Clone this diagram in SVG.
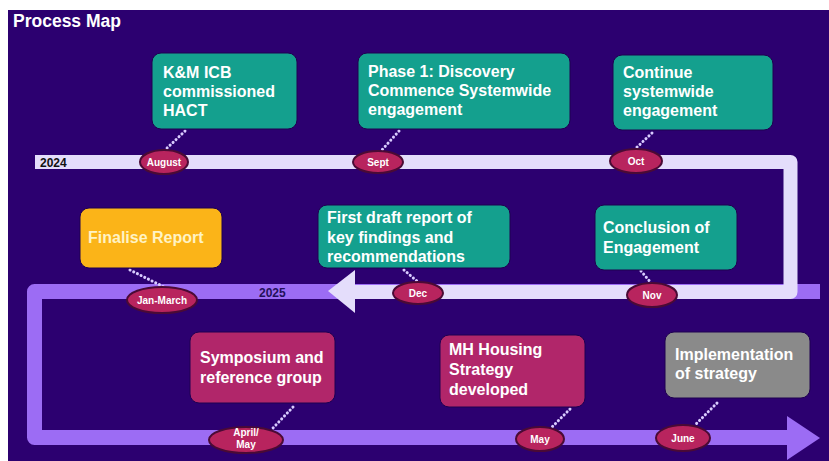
<svg xmlns="http://www.w3.org/2000/svg" width="829" height="461" viewBox="0 0 829 461">
<defs>
<style>
.bg{fill:#2C0070}
.box{stroke:#1f0050;stroke-width:1}
.teal{fill:#14A08E}
.crim{fill:#B1266A}
.yel{fill:#FBB418}
.gray{fill:#8A8A8A}
.t{font-family:"Liberation Sans",Arial,sans-serif;font-weight:bold;font-size:16px;fill:#FFFFFF}
.ty{fill:#FFF3C4}
.ell{fill:#B8245E;stroke:#4A0A35;stroke-width:2}
.et{font-family:"Liberation Sans",Arial,sans-serif;font-weight:bold;font-size:10px;fill:#FFFFFF;text-anchor:middle}
.dot{stroke:#D9CCFF;stroke-width:3;stroke-dasharray:0.1 4;stroke-linecap:round;fill:none}
.light{stroke:#E4DDFB;fill:none;stroke-width:14;stroke-linejoin:round}
.mid{stroke:#9C6CF4;fill:none;stroke-width:15;stroke-linejoin:round}
</style>
</defs>
<rect x="0" y="0" width="829" height="461" fill="#FFFFFF"/>
<rect class="bg" x="8" y="10" width="821" height="451"/>
<text x="13" y="27" style="font-family:'Liberation Sans',Arial,sans-serif;font-weight:bold;font-size:17.5px;fill:#FFFFFF">Process Map</text>

<g id="connectors">
<path class="mid" d="M820,291.5 H34.5 V437.5 H792"/>
<polygon points="787,416 820,438 787,460" fill="#9C6CF4"/>
<path class="light" d="M35,162 H790.5 V292 H352"/>
<polygon points="355,270 328,291 355,313" fill="#E4DDFB"/>
<path class="dot" d="M185,131 L165,150"/>
<path class="dot" d="M399,131 L381,151"/>
<path class="dot" d="M652,133 L635,149"/>
<path class="dot" d="M404,270 L418,282"/>
<path class="dot" d="M130,270 L166,288"/>
<path class="dot" d="M641,271 L652,284"/>
<path class="dot" d="M293,407 L273,428"/>
<path class="dot" d="M570,409 L551,428"/>
<path class="dot" d="M717,403 L695,425"/>
</g>
<text x="40" y="167" style="font-family:'Liberation Sans',Arial,sans-serif;font-weight:bold;font-size:12px;fill:#111111">2024</text>
<text x="259" y="297" style="font-family:'Liberation Sans',Arial,sans-serif;font-weight:bold;font-size:12px;fill:#23105A">2025</text>

<g id="n-kmicb">
<rect class="box teal" x="152" y="53" width="145" height="76" rx="9"/>
<text class="t" x="163" y="78">K&amp;M ICB</text>
<text class="t" x="163" y="97">commissioned</text>
<text class="t" x="163" y="116">HACT</text>
</g>
<g id="n-phase1">
<rect class="box teal" x="358" y="53" width="212" height="76" rx="9"/>
<text class="t" x="368" y="77">Phase 1: Discovery</text>
<text class="t" x="368" y="96">Commence Systemwide</text>
<text class="t" x="368" y="115">engagement</text>
</g>
<g id="n-continue">
<rect class="box teal" x="613" y="55" width="160" height="75" rx="9"/>
<text class="t" x="623" y="78">Continue</text>
<text class="t" x="623" y="97">systemwide</text>
<text class="t" x="623" y="116">engagement</text>
</g>
<g id="n-finalise">
<rect class="box yel" x="80" y="208" width="142" height="60" rx="9"/>
<text class="t ty" x="88" y="243">Finalise Report</text>
</g>
<g id="n-firstdraft">
<rect class="box teal" x="318" y="205" width="192" height="63" rx="9"/>
<text class="t" x="327" y="223">First draft report of</text>
<text class="t" x="327" y="243">key findings and</text>
<text class="t" x="327" y="262">recommendations</text>
</g>
<g id="n-conclusion">
<rect class="box teal" x="595" y="205" width="142" height="65" rx="9"/>
<text class="t" x="603" y="233">Conclusion of</text>
<text class="t" x="603" y="253">Engagement</text>
</g>
<g id="n-symposium">
<rect class="box crim" x="190" y="332" width="145" height="71" rx="9"/>
<text class="t" x="200" y="363">Symposium and</text>
<text class="t" x="200" y="383">reference group</text>
</g>
<g id="n-mhhousing">
<rect class="box crim" x="440" y="335" width="145" height="72" rx="9"/>
<text class="t" x="449" y="355">MH Housing</text>
<text class="t" x="449" y="375">Strategy</text>
<text class="t" x="449" y="395">developed</text>
</g>
<g id="n-implementation">
<rect class="box gray" x="665" y="332" width="145" height="66" rx="9"/>
<text class="t" x="675" y="360">Implementation</text>
<text class="t" x="675" y="379">of strategy</text>
</g>

<g id="m-august"><ellipse class="ell" cx="164" cy="162" rx="24" ry="12"/><text class="et" x="164" y="165.5">August</text></g>
<g id="m-sept"><ellipse class="ell" cx="378" cy="162" rx="25" ry="11"/><text class="et" x="378" y="165.5">Sept</text></g>
<g id="m-oct"><ellipse class="ell" cx="636" cy="161" rx="26" ry="12"/><text class="et" x="636" y="164.5">Oct</text></g>
<g id="m-dec"><ellipse class="ell" cx="418" cy="293" rx="25" ry="11"/><text class="et" x="418" y="296.5">Dec</text></g>
<g id="m-nov"><ellipse class="ell" cx="652" cy="295" rx="25" ry="12"/><text class="et" x="652" y="298.5">Nov</text></g>
<g id="m-janmarch"><ellipse class="ell" cx="162" cy="300" rx="35" ry="13"/><text class="et" x="162" y="303.5">Jan-March</text></g>
<g id="m-aprilmay"><ellipse class="ell" cx="246" cy="440" rx="37" ry="13"/><text class="et" x="246" y="436">April/</text><text class="et" x="246" y="448">May</text></g>
<g id="m-may"><ellipse class="ell" cx="540" cy="439" rx="24" ry="12"/><text class="et" x="540" y="442.5">May</text></g>
<g id="m-june"><ellipse class="ell" cx="683" cy="438" rx="27" ry="13"/><text class="et" x="683" y="441.5">June</text></g>
</svg>
